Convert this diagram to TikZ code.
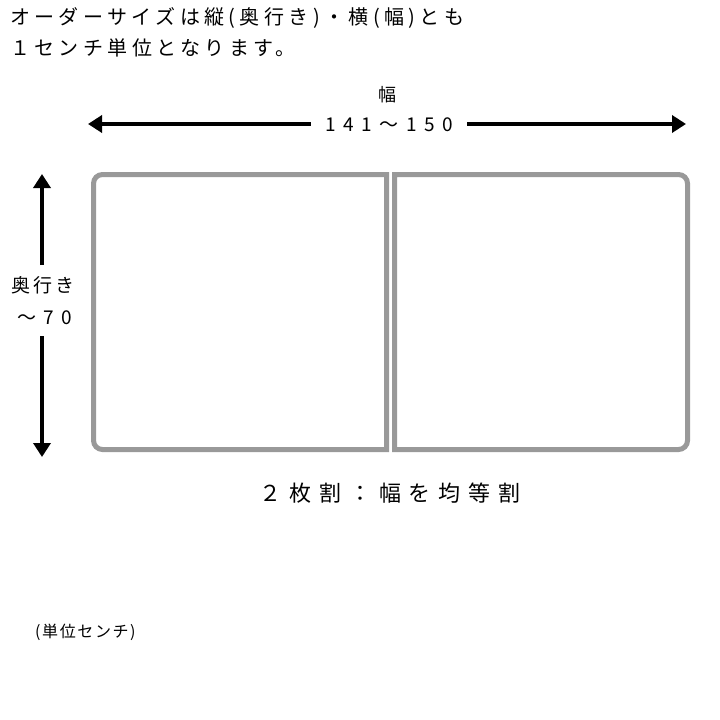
\documentclass[tikz,border=0pt]{standalone}
\usepackage{fontspec}
\setmainfont{Noto Sans CJK JP}
\newfontfamily\jp{Noto Sans CJK JP}
\usetikzlibrary{arrows.meta}
\definecolor{boxgray}{HTML}{999999}
\begin{document}
\begin{tikzpicture}[x=1pt,y=-1pt,
  lbl/.style={inner sep=0pt,text=black},
  arr/.style={line width=4pt,-{Triangle[length=14pt,width=17pt]}},
  panel/.style={draw=boxgray,line width=5pt}]
\useasboundingbox[fill=white] (0,0) rectangle (720,720);
% top text
\node[lbl,anchor=west] (t1) at (10,18) {\jp\fontsize{20}{20}\selectfont\addfontfeature{LetterSpace=22}オーダーサイズは縦(奥行き)・横(幅)とも};
\node[lbl,anchor=west] (t2) at (10,48) {\jp\fontsize{20}{20}\selectfont\addfontfeature{LetterSpace=22}１センチ単位となります。};
% width
\node[lbl] (wtitle) at (387,95) {\jp\fontsize{18}{18}\selectfont 幅};
\node[lbl,inner xsep=14pt] (wlabel) at (389,125) {\jp\fontsize{19}{19}\selectfont\addfontfeature{LetterSpace=40}141〜150};
\coordinate (wl) at (88,124);
\coordinate (wr) at (686,124);
\draw[arr] (wlabel.west |- wl) -- (wl);
\draw[arr] (wlabel.east |- wr) -- (wr);
% depth
\node[lbl] (dtitle) at (43,285) {\jp\fontsize{19}{19}\selectfont\addfontfeature{LetterSpace=14}奥行き};
\node[lbl] (dlabel) at (45,318) {\jp\fontsize{19}{19}\selectfont\addfontfeature{LetterSpace=38}〜70};
\coordinate (dtop) at (42,174);
\coordinate (dbot) at (42,457);
\coordinate (dtopend) at (42,265);
\coordinate (dbotend) at (42,336);
\draw[arr] (dtopend) -- (dtop);
\draw[arr] (dbotend) -- (dbot);
% panels
\coordinate (p1a) at (386.5,174.5);
\coordinate (p1b) at (93.5,449.5);
\coordinate (p2a) at (394.5,174.5);
\coordinate (p2b) at (687.5,449.5);
\draw[panel] (p1a) [rounded corners=9pt] -- (p1b |- p1a) -- (p1b) [sharp corners] -- (p1a |- p1b) -- cycle;
\draw[panel] (p2a) [rounded corners=9pt] -- (p2b |- p2a) -- (p2b) [sharp corners] -- (p2a |- p2b) -- cycle;
% caption
\node[lbl] (cap) at (390,493) {\jp\fontsize{22}{22}\selectfont\addfontfeature{LetterSpace=36}２枚割：幅を均等割};
\node[lbl,anchor=west] (unit) at (35,632) {\jp\fontsize{16}{16}\selectfont\addfontfeature{LetterSpace=10}(単位センチ)};
\end{tikzpicture}
\end{document}
